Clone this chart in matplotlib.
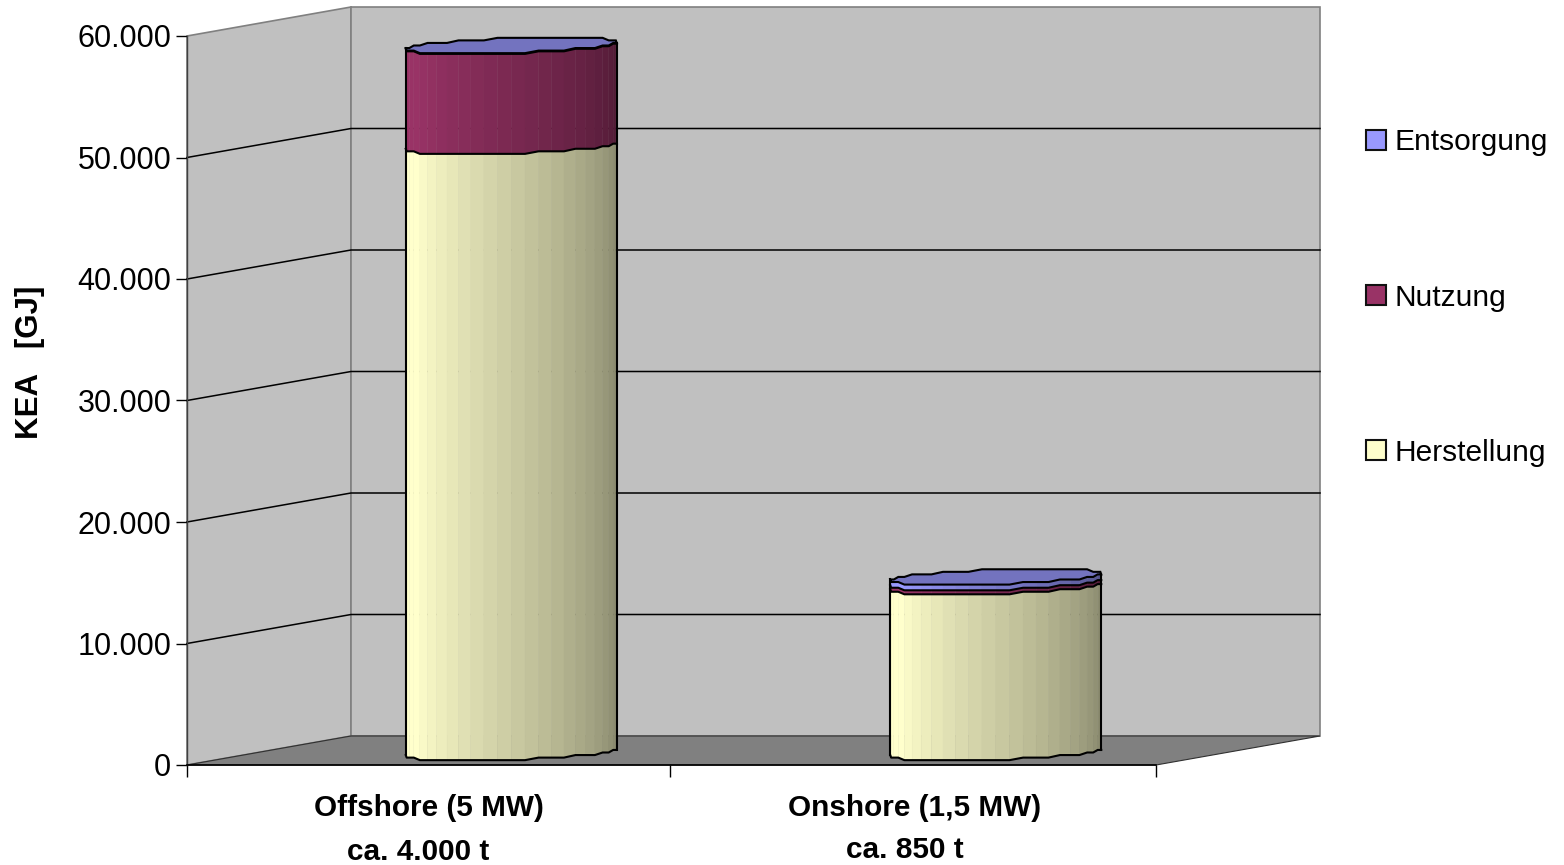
import numpy as np
import matplotlib
matplotlib.use("Agg")
import matplotlib.pyplot as plt
from matplotlib.patches import Patch
from matplotlib.ticker import FuncFormatter

plt.rcParams['font.family'] = ['Liberation Sans', 'DejaVu Sans']

# energy per life cycle phase in GJ
plants = ["Offshore (5 MW)", "Onshore (1,5 MW)"]
masses = ["ca. 4.000 t", "ca. 850 t"]
herstellung = [49900, 13650]
nutzung = [8230, 330]
entsorgung = [60, 470]
phases = ["Herstellung", "Nutzung", "Entsorgung"]
phase_colors = ["#FFFFCC", "#993366", "#9999FF"]
y_ticks = [0, 10000, 20000, 30000, 40000, 50000, 60000]

W, H = 1564, 865
fig = plt.figure(figsize=(W / 100, H / 100), dpi=100, facecolor="white")
# front plane of the fake 3d box
left, right, bottom, top = 187, 1156, 765, 36
ax = fig.add_axes([left / W, 1 - bottom / H, (right - left) / W, (bottom - top) / H])
ax.set_xlim(0, 2)
ax.set_ylim(0, 60000)
ax.patch.set_visible(False)

# px -> data helpers
px_x = 2 / (right - left)
px_y = 60000 / (bottom - top)
depth_x = 164 * px_x
depth_y = 29 * px_y

# walls and floor
ax.fill([0, depth_x, depth_x, 0], [0, depth_y, 60000 + depth_y, 60000],
        fc="#C0C0C0", ec="#808080", lw=1.2, clip_on=False, zorder=1)
ax.fill([depth_x, 2 + depth_x, 2 + depth_x, depth_x], [depth_y, depth_y, 60000 + depth_y, 60000 + depth_y],
        fc="#C0C0C0", ec="#808080", lw=1.2, clip_on=False, zorder=1)
ax.fill([0, depth_x, 2 + depth_x, 2], [0, depth_y, depth_y, 0],
        fc="#808080", ec="#303030", lw=0.8, clip_on=False, zorder=1)

# gridlines run along left wall then back wall
for t in y_ticks[1:-1]:
    ax.plot([0, depth_x, 2 + depth_x], [t, t + depth_y, t + depth_y],
            color="black", lw=1.1, clip_on=False, zorder=2)


def ring(cx, cy, thetas):
    # tilted ellipse, y snapped to a coarse grid so the outline comes out bumpy
    a = 105.5 * px_x
    b = 7.5 * px_y
    tilt = 3.6 * px_y
    xs = cx + a * np.cos(thetas)
    off = tilt * np.cos(thetas) - b * np.sin(thetas)
    off = np.round(off / 210) * 210
    return xs, cy + off


def shade(color, f):
    return tuple(c * f for c in matplotlib.colors.to_rgb(color))


n_strips = 24
thetas = np.linspace(np.pi, 0, n_strips + 1)
series = [herstellung, nutzung, entsorgung]

for i in range(len(plants)):
    cx = i + 0.5 + depth_x / 2
    base = 12.5 * px_y
    y0 = base
    for vals, col in zip(series, phase_colors):
        y1 = y0 + vals[i]
        xs, low = ring(cx, y0, thetas)
        xs, high = ring(cx, y1, thetas)
        for k in range(n_strips):
            f = 1.0 - 0.48 * max(k - 3, 0) / (n_strips - 4)
            c = shade(col, f)
            ax.fill([xs[k], xs[k + 1], xs[k + 1], xs[k]],
                    [low[k], low[k + 1], high[k + 1], high[k]],
                    fc=c, ec=c, lw=0.3, clip_on=False, zorder=3, snap=False)
        # outline of this piece
        ax.plot(xs, low, color="black", lw=1.5, clip_on=False, zorder=4)
        ax.plot([xs[0], xs[0]], [low[0], high[0]], color="black", lw=1.5, clip_on=False, zorder=4)
        ax.plot([xs[-1], xs[-1]], [low[-1], high[-1]], color="black", lw=1.5, clip_on=False, zorder=4)
        y0 = y1
    # lid
    full = np.linspace(0, 2 * np.pi, 2 * n_strips + 1)
    lx, ly = ring(cx, y0, full)
    ax.fill(lx, ly, fc=shade(phase_colors[-1], 0.75), ec="black", lw=1.5, clip_on=False, zorder=5)

# axes
ax.spines["top"].set_visible(False)
ax.spines["right"].set_visible(False)
ax.spines["left"].set_color("#404040")
ax.spines["left"].set_linewidth(1.0)
ax.spines["bottom"].set_color("black")
ax.spines["bottom"].set_linewidth(1.2)
ax.spines["left"].set_zorder(6)
ax.spines["bottom"].set_zorder(6)
ax.set_yticks(y_ticks)
ax.yaxis.set_major_formatter(FuncFormatter(lambda v, p: f"{int(v):,}".replace(",", ".")))
ax.set_xticks([0, 0.997, 2])
ax.set_xticklabels([])
ax.tick_params(axis="y", length=8, width=1, labelsize=22, pad=3.3)
ax.tick_params(axis="x", length=8.5, width=1)

# category labels sit under the ticks, two lines with slightly different offsets
trans = ax.get_xaxis_transform()
ax.text(0.5, -42.5 / (bottom - top), plants[0], transform=trans, ha="center", va="center",
        fontsize=21.4, fontweight="bold")
ax.text(1.502, -42.5 / (bottom - top), plants[1], transform=trans, ha="center", va="center",
        fontsize=21.4, fontweight="bold")
ax.text(0.478, -87 / (bottom - top), masses[0], transform=trans, ha="center", va="center",
        fontsize=21.4, fontweight="bold")
ax.text(1.482, -85 / (bottom - top), masses[1], transform=trans, ha="center", va="center",
        fontsize=21.4, fontweight="bold")

fig.text(30 / W, 1 - 362 / H, "KEA   [GJ]", rotation=90, ha="center", va="center",
         fontsize=22.5, fontweight="bold")

handles = [Patch(fc=c, ec="#111111", lw=1.5, label=l) for c, l in zip(phase_colors[::-1], phases[::-1])]
fig.legend(handles=handles, loc="center left", bbox_to_anchor=(1366 / W, 1 - 297.5 / H), frameon=False,
           fontsize=21.5, handlelength=0.68, handleheight=0.68, handletextpad=0.27,
           labelspacing=4.26, borderpad=0, borderaxespad=0)

fig.savefig("out.png", dpi=100, facecolor="white")
